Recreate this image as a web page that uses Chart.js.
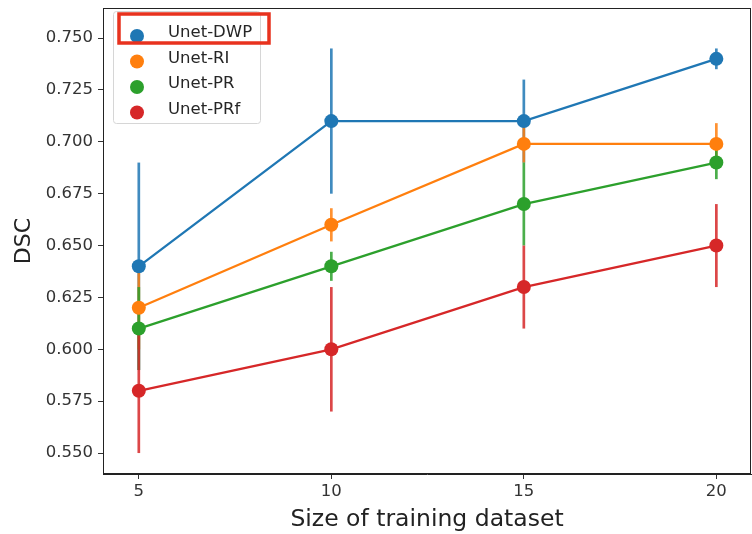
<!DOCTYPE html>
<html>
<head>
<meta charset="utf-8">
<script src="https://cdn.jsdelivr.net/npm/chart.js@4.4.0/dist/chart.umd.min.js"></script>
<style>
html,body{margin:0;padding:0;background:#fff;}
#wrap{width:752px;height:534px;position:relative;}
</style>
</head>
<body>
<div id="wrap"><canvas id="c" width="752" height="534"></canvas></div>
<script>
const sizes = [5, 10, 15, 20];
const seriesNames = ["Unet-DWP", "Unet-RI", "Unet-PR", "Unet-PRf"];
const dwp = [0.640, 0.710, 0.710, 0.740];
const dwpLo = [0.590, 0.675, 0.690, 0.735];
const dwpHi = [0.690, 0.745, 0.730, 0.745];
const ri = [0.620, 0.660, 0.699, 0.699];
const riLo = [0.600, 0.652, 0.690, 0.689];
const riHi = [0.640, 0.668, 0.708, 0.709];
const pr = [0.610, 0.640, 0.670, 0.690];
const prLo = [0.590, 0.633, 0.650, 0.682];
const prHi = [0.630, 0.647, 0.690, 0.697];
const prf = [0.580, 0.600, 0.630, 0.650];
const prfLo = [0.550, 0.570, 0.610, 0.630];
const prfHi = [0.610, 0.630, 0.650, 0.670];
const yTicks = [0.550, 0.575, 0.600, 0.625, 0.650, 0.675, 0.700, 0.725, 0.750];
const xTicks = [5, 10, 15, 20];

const colors = ["#1f77b4", "#ff7f0e", "#2ca02c", "#d62728"];
const errColors = ["rgba(31,119,180,0.85)", "rgba(255,127,14,0.85)", "rgba(44,160,44,0.85)", "rgba(214,39,40,0.85)"];
const means = [dwp, ri, pr, prf];
const los = [dwpLo, riLo, prLo, prfLo];
const his = [dwpHi, riHi, prHi, prfHi];

const FONT = "'DejaVu Sans', sans-serif";

const datasets = [];
seriesNames.forEach((name, i) => {
  datasets.push({
    label: name,
    data: sizes.map((s, k) => ({x: s, y: means[i][k]})),
    borderColor: colors[i],
    backgroundColor: colors[i],
    borderWidth: 2.3,
    pointRadius: 7,
    pointHoverRadius: 7,
    pointBorderWidth: 0,
    tension: 0,
    order: 4 - i
  });
});

const errorBars = {
  id: 'errorBars',
  beforeDatasetsDraw(chart) {
    const {ctx, scales: {x, y}} = chart;
    ctx.save();
    seriesNames.forEach((n, i) => {
      ctx.strokeStyle = errColors[i];
      ctx.lineWidth = 2.7;
      sizes.forEach((s, k) => {
        const px = x.getPixelForValue(s);
        ctx.beginPath();
        ctx.moveTo(px, y.getPixelForValue(los[i][k]));
        ctx.lineTo(px, y.getPixelForValue(his[i][k]));
        ctx.stroke();
      });
    });
    ctx.restore();
  }
};

const frameLegend = {
  id: 'frameLegend',
  afterDraw(chart) {
    const {ctx, chartArea: a} = chart;
    ctx.save();
    ctx.strokeStyle = '#222';
    ctx.lineWidth = 1;
    ctx.strokeRect(a.left + 0.5, a.top + 0.5, a.right - a.left - 1, a.bottom - a.top - 1);
    // legend box
    const lx = a.left + 10, ly = a.top + 3, lw = 147, lh = 112;
    ctx.fillStyle = 'rgba(255,255,255,0.85)';
    ctx.strokeStyle = '#d6d6d6';
    ctx.lineWidth = 1;
    ctx.beginPath();
    ctx.roundRect(lx + 0.5, ly + 0.5, lw, lh, 3);
    ctx.fill();
    ctx.stroke();
    ctx.font = "16.5px " + FONT;
    ctx.textBaseline = 'middle';
    seriesNames.forEach((n, i) => {
      const cy = ly + 22 + i * 25.5;
      ctx.fillStyle = colors[i];
      ctx.beginPath();
      ctx.arc(lx + 24, cy + 3, 7, 0, Math.PI * 2);
      ctx.fill();
      ctx.fillStyle = '#262626';
      ctx.fillText(n, lx + 55, cy);
    });
    // red highlight box
    ctx.strokeStyle = '#e8321e';
    ctx.lineWidth = 3.5;
    ctx.strokeRect(lx + 6, ly + 3, 150, 29);
    ctx.restore();
  }
};

new Chart(document.getElementById('c'), {
  type: 'line',
  data: {datasets},
  plugins: [errorBars, frameLegend],
  options: {
    responsive: false,
    animation: false,
    layout: {autoPadding: false, padding: {top: 8, right: 1, left: 0, bottom: 0}},
    plugins: {legend: {display: false}, tooltip: {enabled: false}},
    scales: {
      x: {
        type: 'linear',
        min: 4.07,
        max: 20.9,
        afterBuildTicks: (s) => { s.ticks = xTicks.map(v => ({value: v})); },
        afterFit: (s) => { s.height = 60; s.paddingLeft = 0; s.paddingRight = 0; },
        grid: {drawOnChartArea: false, drawTicks: true, tickLength: 5, color: '#333', tickWidth: 1},
        border: {display: true, color: '#222', width: 1},
        ticks: {color: '#333', font: {family: FONT, size: 16.5}, padding: 3, maxRotation: 0,
          callback: (v) => String(v)},
        title: {display: true, text: 'Size of training dataset', color: '#222', font: {family: FONT, size: 23.5}, padding: {top: 0, bottom: 0}}
      },
      y: {
        type: 'linear',
        min: 0.5399,
        max: 0.7645,
        afterBuildTicks: (s) => { s.ticks = yTicks.map(v => ({value: v})); },
        afterFit: (s) => { s.width = 103; s.paddingTop = 0; s.paddingBottom = 0; },
        grid: {drawOnChartArea: false, drawTicks: true, tickLength: 5, color: '#333', tickWidth: 1},
        border: {display: true, color: '#222', width: 1},
        ticks: {color: '#333', font: {family: FONT, size: 16.5}, padding: 5,
          callback: (v) => Number(v).toFixed(3)},
        title: {display: true, text: 'DSC', color: '#222', font: {family: FONT, size: 22}, padding: {top: 11, bottom: 0}}
      }
    }
  }
});
</script>
</body>
</html>
